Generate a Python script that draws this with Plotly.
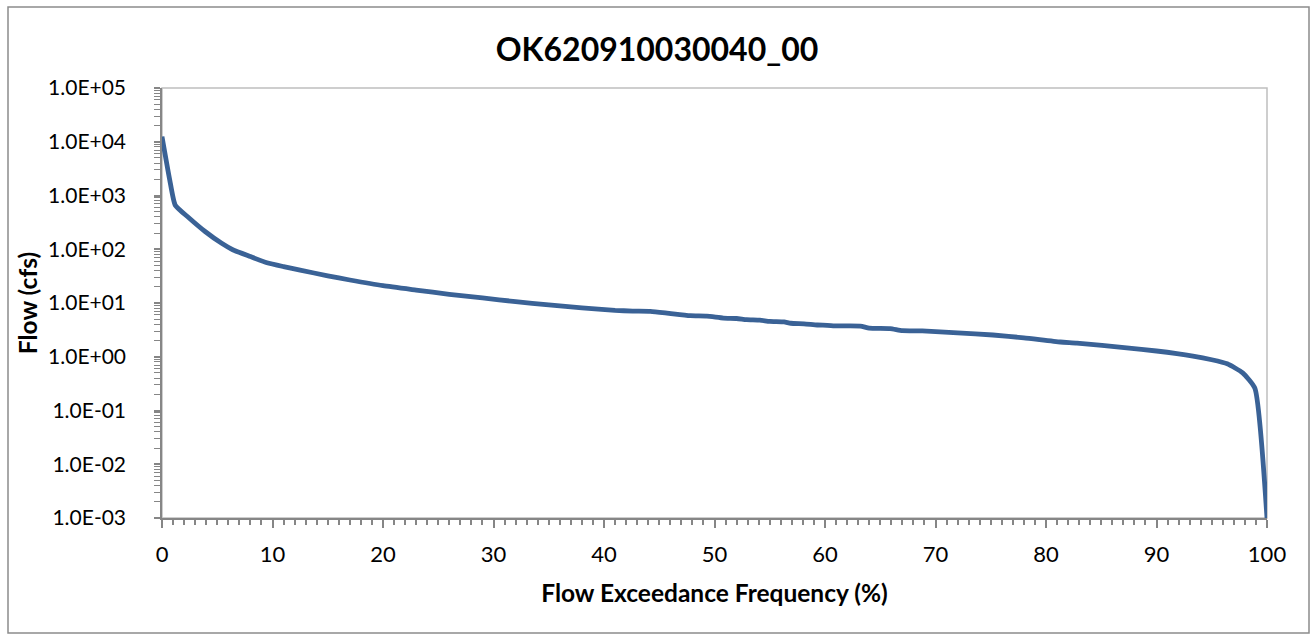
import plotly.graph_objects as go

# ---- data ----
exceedance_pct = [0, 0.7, 1.2, 2.4, 3.9, 5.4, 6.4, 8.0, 9.5, 11, 12.5, 15, 17, 20, 23, 26,
                  29, 32, 35, 38, 41, 42.6, 44.2, 45.7, 47.8, 49.3, 50.8, 52, 52.9, 54.1,
                  55, 56.3, 56.9, 58.1, 59.3, 60.2, 61.1, 63.2, 64, 65.9, 67, 68.8, 72,
                  75.2, 78, 81.3, 82.8, 87.3, 90, 93.3, 95, 96.4, 97.8, 98.9, 100]
flow_cfs = [12500, 1950, 660, 390, 214, 129, 98, 73, 56, 47.5, 41, 32, 26.8, 21, 17.4, 14.5,
            12.4, 10.6, 9.2, 8.1, 7.3, 7.08, 7.0, 6.5, 5.8, 5.7, 5.25, 5.15, 4.9, 4.8,
            4.55, 4.45, 4.2, 4.1, 3.9, 3.85, 3.75, 3.72, 3.4, 3.33, 3.05, 3.02, 2.78,
            2.54, 2.25, 1.88, 1.8, 1.46, 1.28, 1.03, 0.88, 0.74, 0.5, 0.26, 0.001]

y_tick_vals = [1e-3, 1e-2, 1e-1, 1e0, 1e1, 1e2, 1e3, 1e4, 1e5]
y_tick_text = ["1.0E-03", "1.0E-02", "1.0E-01", "1.0E+00", "1.0E+01",
               "1.0E+02", "1.0E+03", "1.0E+04", "1.0E+05"]
x_tick_vals = [0, 10, 20, 30, 40, 50, 60, 70, 80, 90, 100]

title_text = "OK620910030040_00"
x_title = "Flow Exceedance Frequency (%)"
y_title = "Flow (cfs)"

FONT = "Lato"
AXIS_GRAY = "#868686"

fig = go.Figure()
fig.add_trace(go.Scatter(
    x=exceedance_pct, y=flow_cfs, mode="lines",
    line=dict(color="#3A6296", width=4.8, shape="spline", smoothing=0.5),
    showlegend=False, hoverinfo="x+y",
))

fig.update_layout(
    width=1314, height=638,
    margin=dict(l=162, r=47, t=88, b=120),
    paper_bgcolor="white", plot_bgcolor="white",
    font=dict(family=FONT, color="black", size=22),
    title=dict(text=f"<b>{title_text}</b>", x=0.5, xanchor="center",
               xref="container", y=1 - 50 / 638, yanchor="middle",
               font=dict(family=FONT, size=32, color="black")),
    showlegend=False,
)

fig.update_xaxes(
    range=[0, 100], tickvals=x_tick_vals, showgrid=False, zeroline=False,
    showline=True, linecolor=AXIS_GRAY, linewidth=1.5,
    ticks="outside", ticklen=8, tickcolor=AXIS_GRAY, tickwidth=1.5,
    minor=dict(dtick=1, ticks="outside", ticklen=5, tickcolor=AXIS_GRAY, tickwidth=1.5,
               showgrid=False),
    tickfont=dict(family=FONT, size=22, color="black"),
    ticklabelstandoff=8,
    title=dict(text=f"<b>{x_title}</b>", standoff=19,
               font=dict(family=FONT, size=24.5, color="black")),
)

fig.update_yaxes(
    type="log", range=[-3, 5], tickvals=y_tick_vals, ticktext=y_tick_text,
    showgrid=False, zeroline=False,
    showline=True, linecolor=AXIS_GRAY, linewidth=1.5,
    ticks="outside", ticklen=6, tickcolor=AXIS_GRAY, tickwidth=1.5,
    minor=dict(ticks="outside", ticklen=6, tickcolor=AXIS_GRAY, tickwidth=1.2,
               dtick="D1", showgrid=False),
    tickfont=dict(family=FONT, size=21, color="black"),
    ticklabelstandoff=24,
    title=dict(text=f"<b>{y_title}</b>", standoff=3,
               font=dict(family=FONT, size=24.5, color="black")),
)

# plot-area frame (top/right light gray) and outer chart border
fig.add_shape(type="rect", xref="paper", yref="paper", x0=0, x1=1, y0=0, y1=1,
              line=dict(color="#BFBFBF", width=1.5), layer="below")
fig.add_shape(type="rect", xref="paper", yref="paper",
              x0=(8 - 162) / 1105, x1=(1309 - 162) / 1105,
              y0=(518 - 633) / 430, y1=(518 - 7) / 430,
              line=dict(color="#8C8C8C", width=1.5), layer="below")

fig.write_html("out.html", config={"displayModeBar": False},
               post_script="document.body.style.margin='0';document.body.style.overflow='hidden';")
